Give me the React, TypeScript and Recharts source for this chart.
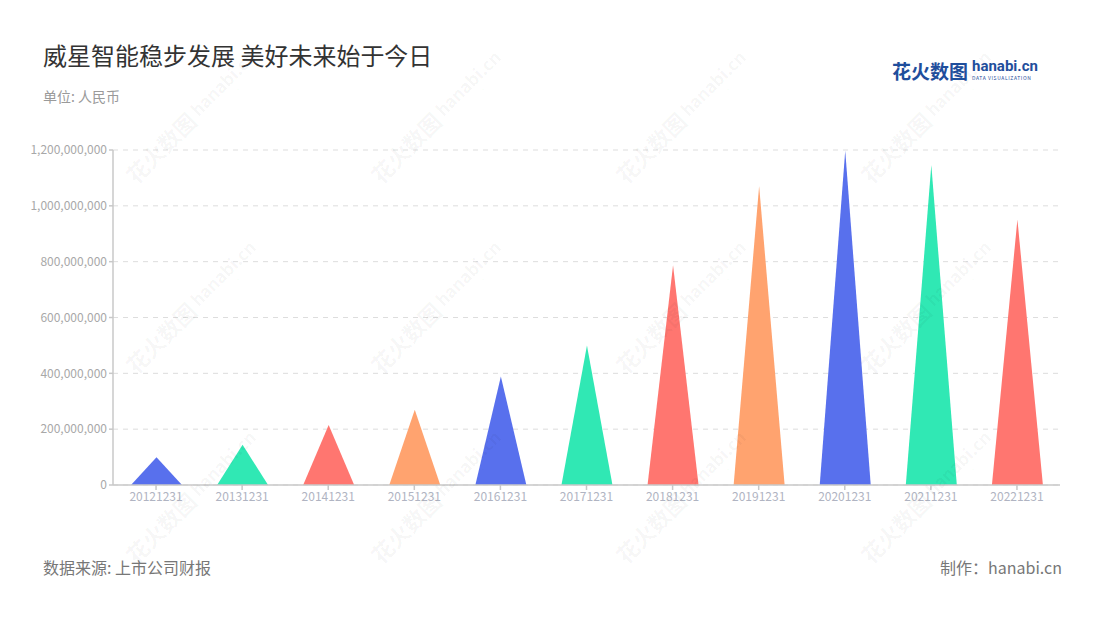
import { BarChart, Bar, XAxis, YAxis, CartesianGrid, Cell } from 'recharts';

const years = ['20121231', '20131231', '20141231', '20151231', '20161231', '20171231', '20181231', '20191231', '20201231', '20211231', '20221231'];
const revenue = [99000000, 144000000, 215000000, 270000000, 389000000, 500000000, 787000000, 1071000000, 1197000000, 1146000000, 951000000];
const yTicks = [0, 200000000, 400000000, 600000000, 800000000, 1000000000, 1200000000];

const COLORS = ['#5870ED', '#30E8B4', '#FF7670', '#FFA36F'];
const FONT = '"Noto Sans CJK SC", "Noto Sans", sans-serif';

const data = years.map((year, i) => ({ year, value: revenue[i] }));

function Triangle(props: any) {
  const { x, y, width, height, fill } = props;
  if (!height) return null;
  const d = `M${x},${y + height} L${x + width / 2},${y} L${x + width},${y + height} Z`;
  return <path d={d} fill={fill} />;
}

const wmCols = [180, 425, 670, 915];
const wmRows = [130, 320, 510];

function Watermarks() {
  return (
    <svg width={1100} height={620} style={{ position: 'absolute', left: 0, top: 0, pointerEvents: 'none' }}>
      {wmRows.map((cy) =>
        wmCols.map((cx) => (
          <g key={`${cx}-${cy}`} transform={`translate(${cx},${cy}) rotate(-45)`} fill="#000" fillOpacity={0.045} fontFamily={FONT}>
            <text x={-70} y={8} fontSize={22} fontWeight="bold">花火数图</text>
            <text x={22} y={4} fontSize={17} fontWeight="bold">hanabi.cn</text>
            <text x={22} y={13} fontSize={5}>DATA VISUALIZATION</text>
          </g>
        ))
      )}
    </svg>
  );
}

export default function App() {
  return (
    <div style={{ position: 'absolute', left: 0, top: 0, width: 1100, height: 620, background: '#fff', fontFamily: FONT, overflow: 'hidden' }}>
      <BarChart
        width={1100}
        height={620}
        data={data}
        margin={{ top: 150, right: 40, bottom: 105, left: 0 }}
        barSize={51}
      >
        <CartesianGrid vertical={false} stroke="#dddddd" strokeDasharray="5 5" />
        <XAxis
          dataKey="year"
          stroke="#c8c8c8"
          strokeWidth={1.5}
          tickSize={5}
          tick={{ fontSize: 12, fill: '#b0b4c2', fontFamily: FONT }}
          interval={0}
          tickMargin={2}
        />
        <YAxis
          width={113}
          stroke="#c8c8c8"
          strokeWidth={1.5}
          domain={[0, 1200000000]}
          ticks={yTicks}
          tickSize={4}
          tickFormatter={(v: number) => v.toLocaleString('en-US')}
          tick={{ fontSize: 12, fill: '#a8a8a8', fontFamily: FONT }}
        />
        <Bar dataKey="value" shape={<Triangle />} isAnimationActive={false}>
          {data.map((_, i) => (
            <Cell key={`c-${i}`} fill={COLORS[i % COLORS.length]} />
          ))}
        </Bar>
      </BarChart>

      <Watermarks />

      <div style={{ position: 'absolute', left: 43, top: 37, fontSize: 24, color: '#333' }}>
        威星智能稳步发展 美好未来始于今日
      </div>
      <div style={{ position: 'absolute', left: 43, top: 86, fontSize: 14, color: '#9a9a9a' }}>单位: 人民币</div>

      <div style={{ position: 'absolute', left: 892, top: 58, display: 'flex', alignItems: 'flex-start' }}>
        <span style={{ fontSize: 19, fontWeight: 'bold', color: '#1f4e9c', lineHeight: '26px' }}>花火数图</span>
        <div style={{ marginLeft: 4, display: 'flex', flexDirection: 'column' }}>
          <span style={{ fontSize: 15, fontWeight: 'bold', color: '#1f4e9c', lineHeight: '17px', fontFamily: 'Roboto, sans-serif' }}>hanabi.cn</span>
          <span style={{ fontSize: 5, color: '#1f4e9c', letterSpacing: 0.6, lineHeight: '6px' }}>DATA VISUALIZATION</span>
        </div>
      </div>

      <div style={{ position: 'absolute', left: 43, top: 555, fontSize: 16, color: '#777' }}>数据来源: 上市公司财报</div>
      <div style={{ position: 'absolute', right: 38, top: 555, fontSize: 16, color: '#777' }}>制作：hanabi.cn</div>
    </div>
  );
}
